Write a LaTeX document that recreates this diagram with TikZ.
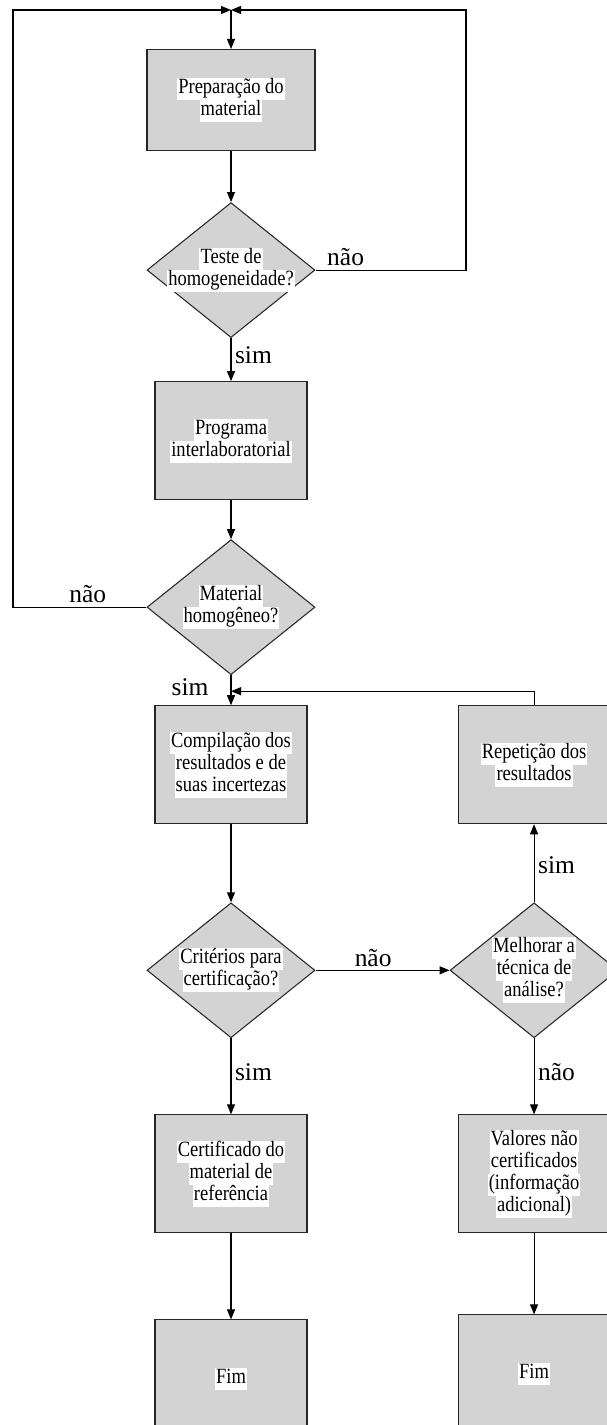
\documentclass[tikz,border=0pt]{standalone}
\usepackage{fontspec}
\setmainfont{Liberation Serif}
\newfontfamily\boxfont{Liberation Serif}[FakeStretch=0.85]
\usepackage{xcolor}
\usepackage{tikz}
\usetikzlibrary{positioning, arrows.meta, shapes.geometric}

\definecolor{boxgray}{RGB}{211,211,211}
\setlength{\fboxsep}{0pt}
\newcommand{\hl}[1]{\colorbox{white}{\strut\kern0.6pt#1\kern0.6pt}}

\begin{document}
\begin{tikzpicture}[
    every node/.style={font=\boxfont\fontsize{12.4pt}{12.5pt}\selectfont},
    box/.style={rectangle, draw=black!85, fill=boxgray, line width=0.6pt, align=center, inner sep=0pt, minimum width=3.04cm, minimum height=2.36cm},
    wide/.style={box, minimum width=3.36cm, minimum height=2.02cm},
    decision/.style={diamond, draw=black!85, fill=boxgray, line width=0.6pt, inner sep=0pt, minimum width=3.36cm, minimum height=2.70cm},
    txt/.style={align=center, inner sep=0pt},
    arr/.style={-{Triangle[length=0.2cm, width=0.16cm]}, line width=0.6pt},
    lab/.style={font=\rmfamily\fontsize{14.5pt}{17pt}\selectfont, inner sep=2pt},
]
\useasboundingbox (0,0) rectangle (12.12,-28.5);

% rails for the two loops back to the top
\coordinate (top) at (4.62,-0.2);
\coordinate (lrail) at (0.26,0);
\coordinate (rrail) at (9.32,0);

% left column, top-down
\node[wide, below=0.78cm of top] (prep) {\hl{Preparação do}\\\hl{material}};
\node[decision, below=1.02cm of prep, label={[txt]center:{\hl{Teste de}\\\hl{homogeneidade?}}}] (teste) {};
\node[box, below=0.86cm of teste] (prog) {\hl{Programa}\\\hl{interlaboratorial}};
\node[decision, below=0.78cm of prog, label={[txt]center:{\hl{Material}\\\hl{homogêneo?}}}] (homog) {};
\node[box, below=0.60cm of homog] (comp) {\hl{Compilação dos}\\\hl{resultados e de}\\\hl{suas incertezas}};
\node[decision, below=1.56cm of comp, label={[txt]center:{\hl{Critérios para}\\\hl{certificação?}}}] (crit) {};
\node[box, below=1.52cm of crit] (cert) {\hl{Certificado do}\\\hl{material de}\\\hl{referência}};
\node[box, below=1.72cm of cert] (fim1) {\hl{Fim}};

% right column
\node[decision, right=2.68cm of crit, label={[txt]center:{\hl{Melhorar a}\\\hl{técnica de}\\\hl{análise?}}}] (melh) {};
\node[box, above=1.56cm of melh] (repet) {\hl{Repetição dos}\\\hl{resultados}};
\node[box, below=1.52cm of melh] (valores) {\hl{Valores não}\\\hl{certificados}\\\hl{(informação}\\\hl{adicional)}};
\node[box, below=1.62cm of valores] (fim2) {\hl{Fim}};
\coordinate[above=0.28cm of comp] (merge);

% column arrows
\draw[arr] (top) -- (prep);
\draw[arr] (prep) -- (teste);
\draw[arr] (teste) -- node[lab, right, pos=0.4] {sim} (prog);
\draw[arr] (prog) -- (homog);
\draw[arr] (homog) -- node[lab, left, pos=0.4, xshift=-0.37cm] {sim} (comp);
\draw[arr] (comp) -- (crit);
\draw[arr] (crit) -- node[lab, right, pos=0.44] {sim} (cert);
\draw[arr] (cert) -- (fim1);

\draw[arr] (crit) -- node[lab, above, pos=0.43] {não} (melh);
\draw[arr] (melh) -- node[lab, right, pos=0.47] {sim} (repet);
\draw[arr] (melh) -- node[lab, right, pos=0.44] {não} (valores);
\draw[arr] (valores) -- (fim2);

% loops back
\draw[arr] (teste.east) -- node[lab, above, pos=0.2] {não} (teste.east -| rrail) |- (top);
\draw[arr] (homog.west) -- node[lab, above, pos=0.44] {não} (homog.west -| lrail) |- (top);
\draw[arr] (repet.north) |- (merge);

\end{tikzpicture}
\end{document}
